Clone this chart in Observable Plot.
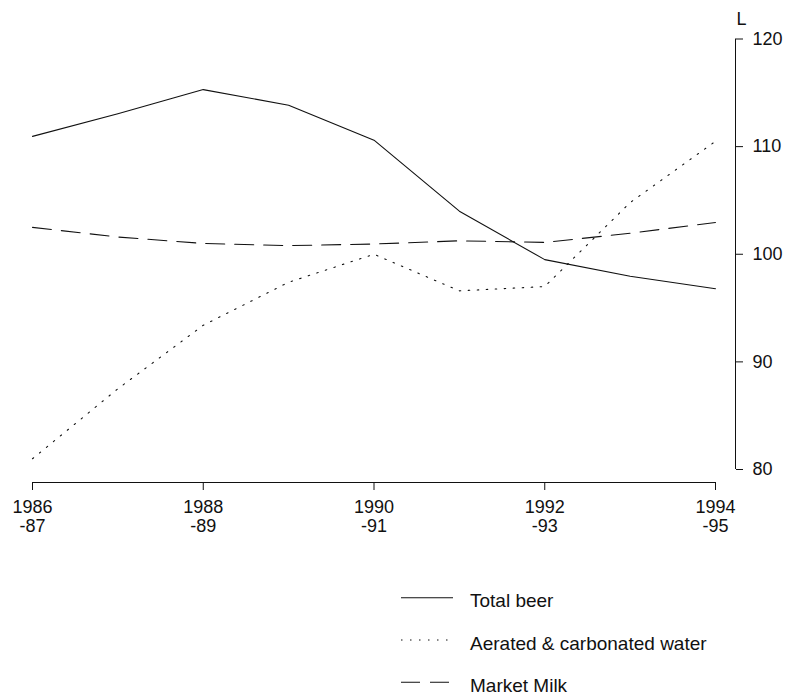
<!DOCTYPE html>
<html>
<head>
<meta charset="utf-8">
<script src="https://cdn.jsdelivr.net/npm/d3@7"></script>
<script src="https://cdn.jsdelivr.net/npm/@observablehq/plot@0.6"></script>
<style>
  body { margin: 0; background: #fff; }
  #chart { width: 790px; }
  #chart svg { display: block; }
</style>
</head>
<body>
<div id="chart"></div>
<script>
// Per-capita consumption (litres), financial years 1986-87 to 1994-95
const years = [1986, 1987, 1988, 1989, 1990, 1991, 1992, 1993, 1994];
const totalBeer = [110.95, 113.05, 115.3, 113.85, 110.6, 104.0, 99.5, 97.95, 96.8];
const aeratedWater = [81.0, 87.5, 93.4, 97.4, 100.0, 96.6, 97.0, 104.8, 110.5];
const marketMilk = [102.5, 101.6, 101.0, 100.8, 100.95, 101.25, 101.1, 101.95, 102.95];

const seriesNames = ["Total beer", "Aerated & carbonated water", "Market Milk"];
const seriesValues = [totalBeer, aeratedWater, marketMilk];

const xTicks = [1986, 1988, 1990, 1992, 1994];
const xTickLabels = ["1986\n-87", "1988\n-89", "1990\n-91", "1992\n-93", "1994\n-95"];
const yTicks = [80, 90, 100, 110, 120];
const yLabel = "L";

// Line styles, one per series
const dashes = [null, "1.5,7.5", "19,10"];

const font = "'Liberation Sans', Arial, Helvetica, sans-serif";
const ink = "#111";

// Long-format table for the line marks
const rows = seriesNames.flatMap((name, s) =>
  years.map((year, i) => ({series: name, year, value: seriesValues[s][i]}))
);

const lineMarks = seriesNames.map((name, s) =>
  Plot.line(rows.filter(d => d.series === name), {
    x: "year",
    y: "value",
    stroke: ink,
    strokeWidth: 1.1,
    strokeDasharray: dashes[s] ?? undefined
  })
);

const chart = Plot.plot({
  width: 790,
  height: 560,
  marginTop: 0,
  marginRight: 55,
  marginBottom: 78,
  marginLeft: 32,
  x: {domain: [1986, 1994], range: [32, 715]},
  y: {domain: [80, 120], range: [469, 38.5]},
  style: {fontFamily: font, fontSize: "18px", color: ink, background: "#fff"},
  marks: [
    // x axis: baseline, ticks and two-line year labels
    Plot.ruleY([80], {x1: 1986, x2: 1994, dy: 13, stroke: ink, strokeWidth: 1}),
    Plot.axisX({
      anchor: "bottom",
      ticks: xTicks,
      tickFormat: d => xTickLabels[xTicks.indexOf(d)],
      tickSize: 8,
      tickPadding: 8,
      lineHeight: 1.1,
      fontSize: 18,
      stroke: ink,
      label: null
    }),
    // y axis on the right
    Plot.ruleX([1994], {y1: 80, y2: 120, dx: 20, stroke: ink, strokeWidth: 1}),
    Plot.axisY({
      anchor: "right",
      ticks: yTicks,
      tickSize: 7,
      tickPadding: 10,
      fontSize: 18,
      stroke: ink,
      label: null
    }),
    Plot.text([yLabel], {
      frameAnchor: "top-right",
      text: d => d,
      dx: 1,
      dy: 19,
      textAnchor: "start",
      lineAnchor: "middle",
      fontSize: 18,
      fill: ink
    }),
    ...lineMarks
  ]
});

document.getElementById("chart").append(chart);

// Legend below the chart
const legendHeight = 135;
const legend = d3.create("svg")
  .attr("width", 790)
  .attr("height", legendHeight)
  .style("display", "block")
  .style("font-family", font);

const rowY = [37.7, 80, 122.3];
seriesNames.forEach((name, s) => {
  const g = legend.append("g").attr("transform", `translate(0,${rowY[s]})`);
  g.append("line")
    .attr("x1", 401).attr("x2", 453)
    .attr("y1", 0).attr("y2", 0)
    .attr("stroke", ink)
    .attr("stroke-width", 1.1)
    .attr("stroke-dasharray", dashes[s]);
  g.append("text")
    .attr("x", 470)
    .attr("y", 9.5)
    .attr("font-size", 19)
    .attr("fill", ink)
    .text(name);
});

document.getElementById("chart").append(legend.node());
</script>
</body>
</html>
